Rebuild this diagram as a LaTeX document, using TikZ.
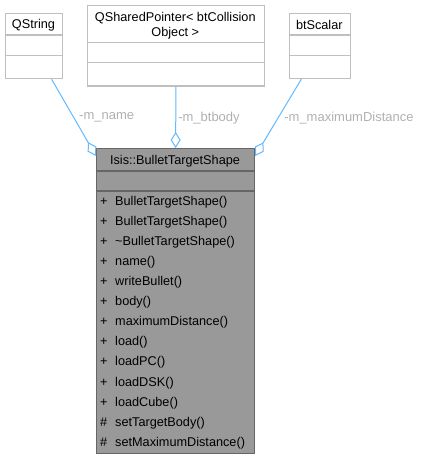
\documentclass[tikz,border=0pt]{standalone}
\usepackage{fontspec}
\setmainfont{Liberation Sans}
\usetikzlibrary{arrows.meta}
\definecolor{edgeblue}{HTML}{63B8FF}
\definecolor{lightborder}{HTML}{BFBFBF}
\definecolor{darkborder}{HTML}{666666}
\definecolor{mainfill}{HTML}{999999}
\definecolor{labelgray}{HTML}{B0B0B0}
\tikzset{
  x=1pt, y=-1pt,
  txt/.style={inner sep=0pt, font=\fontsize{12.7}{15}\selectfont, text=black},
  lbl/.style={inner sep=0pt, font=\fontsize{13}{15}\selectfont, text=labelgray},
  ubox/.style={draw=lightborder, fill=white, line width=1.2pt, inner sep=0pt, anchor=north west},
  mbox/.style={draw=darkborder, fill=mainfill, line width=1.2pt, inner sep=0pt, anchor=north west},
  edge/.style={draw=edgeblue, line width=1pt, -{Diamond[fill=white, length=16pt, width=10pt, line width=1pt]}},
  member/.style={txt, anchor=west}
}
\begin{document}
\begin{tikzpicture}
\useasboundingbox (0,0) rectangle (421,459);

% QString
\node[ubox, minimum width=57pt, minimum height=65.3pt] (qs) at (5,12.7) {};
\draw[lightborder, line width=1.2pt] (5,35) -- (62,35) (5,55.7) -- (62,55.7);
\node[txt] (qst) at (33.5,25) {QString};

% QSharedPointer
\node[ubox, minimum width=177.3pt, minimum height=80.3pt] (qsp) at (86.7,5) {};
\draw[lightborder, line width=1.2pt] (86.7,42.7) -- (264,42.7) (86.7,62.7) -- (264,62.7);
\node[txt] (qspt1) at (175.3,18.5) {QSharedPointer< btCollision};
\node[txt] (qspt2) at (175.3,33.5) {Object >};

% btScalar
\node[ubox, minimum width=61.3pt, minimum height=65.3pt] (bts) at (288.7,12.7) {};
\draw[lightborder, line width=1.2pt] (288.7,35) -- (350,35) (288.7,55.7) -- (350,55.7);
\node[txt] (btst) at (319.3,25) {btScalar};

% Main class
\node[mbox, minimum width=158pt, minimum height=305pt] (main) at (96,148) {};
\draw[darkborder, line width=1.2pt] (96,171) -- (254,171) (96,191) -- (254,191);
\node[txt] (maint) at (175,161.7) {Isis::BulletTargetShape};

\foreach \i/\s/\t in {
  0/+/BulletTargetShape(),
  1/+/BulletTargetShape(),
  2/+/\textasciitilde BulletTargetShape(),
  3/+/name(),
  4/+/writeBullet(),
  5/+/body(),
  6/+/maximumDistance(),
  7/+/load(),
  8/+/loadPC(),
  9/+/loadDSK(),
  10/+/loadCube(),
  11/\#/setTargetBody(),
  12/\#/setMaximumDistance()}{
  \node[member] (m\i) at (100,202+20.08*\i) {\makebox[15pt][l]{\s}\t};
}

% edges
\draw[edge] ([xshift=17.5pt]qs.south) -- ([yshift=-8pt]main.north west);
\draw[edge] (qsp.south) -- (main.north);
\draw[edge] ([xshift=-18.6pt]bts.south) -- ([yshift=-8pt]main.north east);

% labels
\node[lbl] (l1) at (106.7,117.7) {-m\_name};
\node[lbl] (l2) at (209,117.7) {-m\_btbody};
\node[lbl] (l3) at (349,117.7) {-m\_maximumDistance};
\end{tikzpicture}
\end{document}
